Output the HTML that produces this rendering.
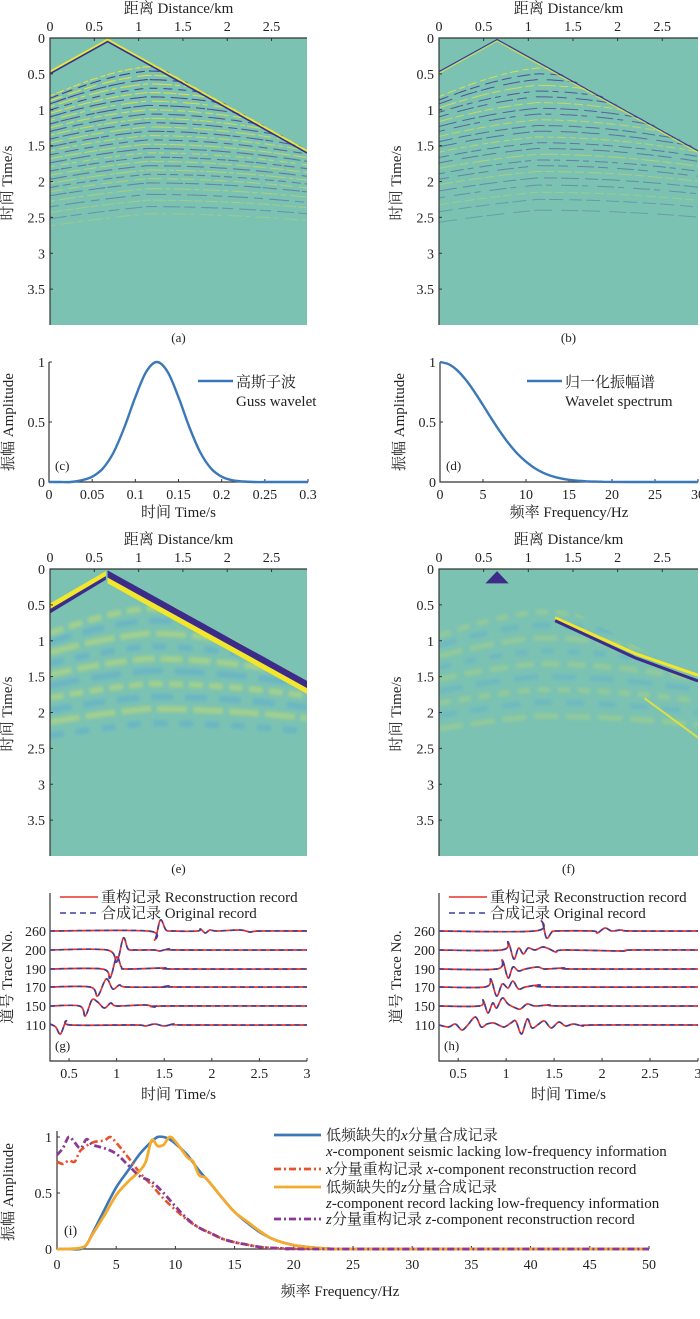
<!DOCTYPE html>
<html><head><meta charset="utf-8"><style>
body{margin:0;background:#fff}
svg{display:block;font-family:"Liberation Serif","Noto Serif CJK SC","Noto Sans CJK SC",serif}
text{fill:#222}
</style></head><body>
<svg id="fig" width="700" height="1319" viewBox="0 0 700 1319" xmlns="http://www.w3.org/2000/svg"></svg>
<script>
// ---------- data ----------
const distTicks=[0,0.5,1,1.5,2,2.5];
const timeTicks=[0,0.5,1,1.5,2,2.5,3,3.5];
const reflA=[0.4,0.46,0.52,0.58,0.64,0.7,0.76,0.82,0.88,0.94,1.0,1.06,1.12,1.18,1.24,1.3,1.36,1.42,1.48,1.54,1.6,1.66,1.72,1.78,1.84,1.9,1.96,2.02,2.1,2.18,2.26,2.35,2.45];
const reflB=[0.42,0.5,0.58,0.66,0.74,0.82,0.9,0.98,1.06,1.14,1.22,1.3,1.38,1.46,1.54,1.62,1.7,1.78,1.86,1.95,2.05,2.15,2.25,2.4];
const reflE=[0.55,0.72,0.9,1.08,1.25,1.42,1.6,1.78,1.95,2.15];
const reflF=[0.6,0.78,0.96,1.14,1.32,1.5,1.68,1.86,2.05];
const wavT=[0,0.0125,0.025,0.0375,0.05,0.0625,0.075,0.0875,0.1,0.1125,0.125,0.1375,0.15,0.1625,0.175,0.1875,0.2,0.2125,0.225,0.2375,0.25,0.2625,0.275,0.2875,0.3];
const wavA=[0,0,0,0.014,0.044,0.114,0.25,0.458,0.707,0.917,1,0.917,0.707,0.458,0.25,0.114,0.044,0.014,0.004,0,0,0,0,0,0];
const specF=[0,1,2,3,4,5,6,7,8,9,10,11,12,13,14,15,16,17,18,19,20,22,25,30];
const specA=[1,0.982,0.931,0.852,0.752,0.641,0.527,0.418,0.32,0.236,0.169,0.116,0.077,0.049,0.031,0.018,0.011,0.006,0.003,0.002,0.001,0,0,0];
const traceNos=[260,200,190,170,150,110];
const traceTicks=[0.5,1,1.5,2,2.5,3];
const tracesG=[
[[0.3,0],[1.33,0],[1.4,-9],[1.46,11],[1.52,1],[1.6,0],[1.85,0],[1.88,2],[1.93,-2],[1.98,1],[2.05,0],[2.3,1],[2.4,-1],[2.5,0],[3,0]],
[[0.3,0],[0.9,0],[1.0,-12],[1.07,12],[1.12,1],[1.2,0],[1.4,0],[1.45,-1],[1.55,1],[1.65,0],[3,0]],
[[0.3,0],[0.85,0],[0.93,-9],[1.0,12],[1.05,2],[1.1,0],[1.5,1],[1.6,0],[3,0]],
[[0.3,0],[0.72,0],[0.8,-9],[0.89,8],[0.96,-2],[1.03,2],[1.1,0],[1.5,0],[1.55,1],[1.62,0],[3,0]],
[[0.3,0],[0.61,0],[0.67,-10],[0.74,6],[0.8,4],[0.87,-2],[0.94,3],[1.0,0],[1.3,1],[1.4,-1],[1.5,0],[3,0]],
[[0.3,1],[0.36,-2],[0.41,-9],[0.47,4],[0.52,0],[1.2,0],[1.3,-1],[1.4,1],[1.5,-1],[1.6,1],[1.7,0],[3,0]]];
const tracesH=[
[[0.3,0],[1.3,0],[1.37,10],[1.42,-7],[1.47,-2],[1.52,0],[1.9,0],[1.95,-2],[2.03,3],[2.1,0],[2.2,1],[2.3,0],[3,0]],
[[0.3,0],[0.95,0],[1.02,8],[1.08,-9],[1.13,2],[1.18,-4],[1.23,2],[1.3,0],[1.38,3],[1.45,1],[1.52,-2],[1.6,0],[2.2,-1],[2.3,0],[3,0]],
[[0.3,0],[0.9,0],[0.96,9],[1.02,-9],[1.07,2],[1.13,-2],[1.2,0],[1.33,2],[1.4,0],[1.6,1],[1.7,0],[3,0]],
[[0.3,0],[0.78,0],[0.84,8],[0.9,-9],[0.96,3],[1.02,-1],[1.07,6],[1.13,-2],[1.2,0],[1.35,2],[1.45,0],[3,0]],
[[0.3,0],[0.72,0],[0.76,6],[0.81,-7],[0.86,3],[0.9,-2],[0.96,8],[1.02,2],[1.1,-2],[1.15,-3],[1.22,2],[1.3,0],[1.45,1],[1.6,0],[3,0]],
[[0.3,0],[0.4,-2],[0.47,1],[0.54,-5],[0.6,0],[0.68,8],[0.74,-2],[0.8,1],[0.87,2],[0.92,0],[0.98,-2],[1.05,2],[1.1,4],[1.16,-9],[1.22,6],[1.27,-3],[1.34,1],[1.4,4],[1.47,-3],[1.55,3],[1.62,-1],[1.7,1],[1.8,-1],[1.9,0],[3,0]]];
const freqTicks=[0,5,10,15,20,25,30,35,40,45,50];
const fBlue=[0,1,2,2.5,3,4,5,6,7,8,8.5,9,9.5,10,11,12,13,14,15,16,17,18,19,20,21,22,23,25,50];
const aBlue=[0,0,0,0.04,0.14,0.35,0.55,0.7,0.85,0.96,1,1,0.98,0.94,0.84,0.7,0.58,0.45,0.33,0.24,0.16,0.1,0.06,0.035,0.02,0.01,0.004,0,0];
const fOrange=[0,1,2,2.5,3,4,5,6,7,7.5,8,8.5,9,9.5,10,11,11.5,12,12.5,13,14,15,16,17,18,19,20,21,22,23,25,50];
const aOrange=[0,0,0.01,0.04,0.13,0.3,0.48,0.6,0.7,0.78,0.97,0.92,0.93,1,0.96,0.82,0.78,0.66,0.64,0.58,0.45,0.33,0.25,0.17,0.1,0.06,0.035,0.02,0.01,0.004,0,0];
const fRed=[0,0.5,1,1.5,2,3,4,4.5,5,6,7,8,9,10,11,12,13,14,15,16,17,18,20,22,50];
const aRed=[0.78,0.76,0.79,0.78,0.88,0.95,0.97,1,0.95,0.82,0.68,0.57,0.45,0.35,0.26,0.19,0.14,0.09,0.06,0.04,0.02,0.01,0.003,0,0];
const fPurple=[0,0.5,1,1.5,2,2.5,3,4,5,6,7,8,9,10,11,12,13,14,15,16,17,18,20,22,50];
const aPurple=[0.84,0.9,1,0.95,0.9,0.98,0.93,0.9,0.85,0.75,0.65,0.6,0.5,0.38,0.27,0.19,0.14,0.09,0.06,0.04,0.02,0.01,0.003,0,0];

// ---------- helpers ----------
const NS='http://www.w3.org/2000/svg';
const svg=document.getElementById('fig');
function mk(tag,attrs,parent){const e=document.createElementNS(NS,tag);for(const k in attrs)e.setAttribute(k,attrs[k]);(parent||svg).appendChild(e);return e;}
function txt(x,y,s,size,anchor,parent){const t=mk('text',{x:x,y:y,'font-size':size,'text-anchor':anchor||'middle'},parent);t.textContent=s;return t;}
function smooth(pts){let d='M'+pts[0][0].toFixed(1)+','+pts[0][1].toFixed(1);
 for(let i=0;i<pts.length-1;i++){const p0=pts[Math.max(0,i-1)],p1=pts[i],p2=pts[i+1],p3=pts[Math.min(pts.length-1,i+2)];
  const c1x=p1[0]+(p2[0]-p0[0])/6,c1y=p1[1]+(p2[1]-p0[1])/6,c2x=p2[0]-(p3[0]-p1[0])/6,c2y=p2[1]-(p3[1]-p1[1])/6;
  d+=' C'+c1x.toFixed(1)+','+c1y.toFixed(1)+' '+c2x.toFixed(1)+','+c2y.toFixed(1)+' '+p2[0].toFixed(1)+','+p2[1].toFixed(1);}
 return d;}
function rotText(x,y,s,size,parent){const t=mk('text',{x:0,y:0,'font-size':size,'text-anchor':'middle',transform:'translate('+x+','+y+') rotate(-90)'},parent);t.textContent=s;return t;}
const defs=mk('defs',{});
const blur=mk('filter',{id:'bl',x:'-20%',y:'-20%',width:'140%',height:'140%'},defs);
mk('feGaussianBlur',{stdDeviation:'1.6'},blur);

// ---------- seismic panels ----------
const TEAL='#7bc2b3',YEL='#f3e62b',PUR='#3c2b88',LBLUE='#59a9d6';
function seis(id,L,T,R,B,refl,mode,label){
 const W=R-L,H=B-T;
 const xs=k=>L+k*W/2.9, ys=t=>T+t*H/4;
 const g=mk('g',{});
 
 
 const cp=mk('clipPath',{id:'clip'+id},defs);
 mk('rect',{x:L,y:T,width:W,height:H},cp);
 const cp2=mk('clipPath',{id:'below'+id},defs);
 mk('polygon',{points:[[L,ys(0.65/1.45)],[xs(0.65),T],[R,ys(2.25/1.45)],[R,B],[L,B]].map(p=>p.join(',')).join(' ')},cp2);
 const bg=mk('rect',{x:L,y:T,width:W,height:H,fill:TEAL},g);
 
 
 const inner=mk('g',{'clip-path':'url(#clip'+id+')'},g);
 const rg=mk('g',{'clip-path':'url(#below'+id+')'},inner);
 if(mode==='e'||mode==='f')rg.setAttribute('filter','url(#bl)');
 refl.forEach((t0,i)=>{
  const v=1.9+t0*0.3;let pts=[];
  for(let k=0;k<=2.9001;k+=0.05){const t=Math.sqrt(t0*t0+Math.pow((k-1.1)/v,2))+(k<1.1?(1.1-k)*0.12:0);pts.push([xs(k),ys(t)]);}
  let col,w,op,dash;
  if(mode==='a'){col=i%2?PUR:YEL;w=1.1;op=Math.max(0.25,1-t0*0.3);dash=(5+i%4*4)+' '+(2+i%3*2)+' '+(8+i%5*3)+' '+(3+i%2*3);}
  else if(mode==='b'){col=i%3?PUR:YEL;w=1;op=Math.max(0.25,0.9-t0*0.28);dash=(6+i%4*4)+' '+(3+i%3*3)+' '+(9+i%3*4)+' 4';}
  else if(mode==='e'){col=i%2?LBLUE:'#c9dd6a';w=6;op=0.5;dash=(14+i%3*8)+' '+(6+i%2*6);}
  else {col=i%2?LBLUE:'#b8d870';w=5;op=0.4;dash=(12+i%3*6)+' '+(8+i%2*6);}
  const p=mk('path',{d:smooth(pts),fill:'none',stroke:col,'stroke-width':w,'stroke-opacity':op,'stroke-dasharray':dash},rg);
  
  
 });
 const dw=(off,col,w)=>{const pts=[[xs(0),ys(0.65/1.45+off)],[xs(0.65),ys(off)],[xs(2.9),ys(2.25/1.45+off)]];
  const p=mk('polyline',{points:pts.map(q=>q.join(',')).join(' '),fill:'none',stroke:col,'stroke-width':w},inner);
  
  return p;};
 if(mode==='a'){dw(0.02,YEL,1.6);dw(0.05,PUR,1.5);}
 else if(mode==='b'){dw(0.02,PUR,1);dw(0.045,YEL,0.7);}
 else if(mode==='e'){
  const p1=mk('polygon',{points:[[xs(0),ys(0.48)],[xs(0.63),ys(0.03)],[xs(0.63),ys(0.1)],[xs(0),ys(0.56)]].map(q=>q.join(',')).join(' '),fill:YEL},inner);
  
  const p1b=mk('polygon',{points:[[xs(0),ys(0.56)],[xs(0.63),ys(0.1)],[xs(0.63),ys(0.15)],[xs(0),ys(0.62)]].map(q=>q.join(',')).join(' '),fill:PUR},inner);
  
  const p2=mk('polygon',{points:[[xs(0.65),ys(0.02)],[xs(2.9),ys(1.56)],[xs(2.9),ys(1.66)],[xs(0.65),ys(0.12)]].map(q=>q.join(',')).join(' '),fill:PUR},inner);
  
  const p3=mk('polygon',{points:[[xs(0.65),ys(0.12)],[xs(2.9),ys(1.66)],[xs(2.9),ys(1.74)],[xs(0.65),ys(0.2)]].map(q=>q.join(',')).join(' '),fill:YEL},inner);
  
 } else {
  const tri=mk('polygon',{points:[[xs(0.52),ys(0.2)],[xs(0.65),ys(0.03)],[xs(0.78),ys(0.2)]].map(q=>q.join(',')).join(' '),fill:PUR},inner);
  
  const a=mk('polyline',{points:[[xs(1.3),ys(0.68)],[xs(2.2),ys(1.18)],[xs(2.9),ys(1.48)]].map(q=>q.join(',')).join(' '),fill:'none',stroke:YEL,'stroke-width':3},inner);
  
  const b=mk('polyline',{points:[[xs(1.3),ys(0.72)],[xs(2.2),ys(1.24)],[xs(2.9),ys(1.56)]].map(q=>q.join(',')).join(' '),fill:'none',stroke:PUR,'stroke-width':3},inner);
  
  const c=mk('polyline',{points:[[xs(2.3),ys(1.8)],[xs(2.9),ys(2.35)]].map(q=>q.join(',')).join(' '),fill:'none',stroke:YEL,'stroke-width':2,'stroke-opacity':0.8},inner);
  
 }
 const ax=mk('path',{d:'M'+L+','+B+' V'+T+' H'+R,fill:'none',stroke:'#333','stroke-width':1.2},g);
 
 distTicks.forEach(k=>{mk('line',{x1:xs(k),x2:xs(k),y1:T,y2:T+3,stroke:'#333'},g);
  const t=txt(xs(k),T-7,String(k),14,'middle',g);});
 timeTicks.forEach(v=>{mk('line',{x1:L,x2:L+3,y1:ys(v),y2:ys(v),stroke:'#333'},g);
  const t=txt(L-5,ys(v)+5,String(v),14,'end',g);});
 const xt=txt((L+R)/2,T-25,'距离 Distance/km',15,'middle',g);
 const yt=rotText(L-38,T+145,'时间 Time/s',15,g);
 const lb=txt((L+R)/2,B+17,label,13,'middle',g);
}
seis('a',50,38,307,325,reflA,'a','(a)');
seis('b',439,38,698,325,reflB,'b','(b)');
seis('e',50,569,307,856,reflE,'e','(e)');
seis('f',439,569,698,856,reflF,'f','(f)');

// ---------- line plots c, d ----------
function linePlot(id,L,T,R,B,xmax,xticks,xs_,ys_,lx,legend1,legend2,xlabel,label){
 const g=mk('g',{});
 
 
 const X=v=>L+v/xmax*(R-L),Y=v=>B-v*(B-T);
 const ax=mk('path',{d:'M'+L+','+T+' V'+B+' H'+R,fill:'none',stroke:'#333','stroke-width':1.2},g);
 
 xticks.forEach(v=>{mk('line',{x1:X(v),x2:X(v),y1:B,y2:B-3,stroke:'#333'},g);
  const t=txt(X(v),B+17,String(v),14,'middle',g);});
 [0,0.5,1].forEach(v=>{mk('line',{x1:L,x2:L+3,y1:Y(v),y2:Y(v),stroke:'#333'},g);
  const t=txt(L-4,Y(v)+5,String(v),14,'end',g);});
 const p=mk('path',{d:smooth(xs_.map((v,i)=>[X(v),Y(ys_[i])])),fill:'none',stroke:'#3a78b8','stroke-width':2.4},g);
 
 const ll=mk('line',{x1:lx,x2:lx+35,y1:381,y2:381,stroke:'#3a78b8','stroke-width':2.6},g);
 
 const l1=txt(lx+38,387,legend1,15,'start',g);
 const l2=txt(lx+38,406,legend2,15,'start',g);
 const yt=rotText(L-36,T+60,'振幅 Amplitude',15,g);
 const xt=txt((L+R)/2,517,xlabel,15,'middle',g);
 const lb=txt(L+6,470,label,13,'start',g);
}
linePlot('c',49,362,308,482,0.3,[0,0.05,0.1,0.15,0.2,0.25,0.3],wavT,wavA,198,'高斯子波','Guss wavelet','时间 Time/s','(c)');
linePlot('d',440,362,698,482,30,[0,5,10,15,20,25,30],specF,specA,527,'归一化振幅谱','Wavelet spectrum','频率 Frequency/Hz','(d)');

// ---------- trace panels g, h ----------
const baseY=[931,950,969,987,1006,1025];
function tracePanel(id,L,R,traces,label){
 const T=893,B=1061;
 const g=mk('g',{});
 
 
 const X=t=>L+(t-0.3)/2.7*(R-L);
 const ax=mk('path',{d:'M'+L+','+T+' V'+B+' H'+R,fill:'none',stroke:'#333','stroke-width':1.2},g);
 
 traceTicks.forEach(v=>{mk('line',{x1:X(v),x2:X(v),y1:B,y2:B-3,stroke:'#333'},g);
  const t=txt(X(v),B+17,String(v),14,'middle',g);});
 traceNos.forEach((n,i)=>{
  const t=txt(L-4,baseY[i]+5,String(n),14,'end',g);
  const d=smooth(traces[i].map(p=>[X(p[0]),baseY[i]-p[1]]));
  const r=mk('path',{d:d,fill:'none',stroke:'#e8302e','stroke-width':1.7},g);
  
  const b=mk('path',{d:d,fill:'none',stroke:'#3a3f9a','stroke-width':1.6,'stroke-dasharray':'5 4'},g);
  
 });
 const l1=mk('line',{x1:L+10,x2:L+48,y1:897,y2:897,stroke:'#e8302e','stroke-width':1.6},g);
 
 const t1=txt(L+51,902,'重构记录 Reconstruction record',15,'start',g);
 const l2=mk('line',{x1:L+10,x2:L+48,y1:913,y2:913,stroke:'#3a3f9a','stroke-width':1.6,'stroke-dasharray':'6 4'},g);
 
 const t2=txt(L+51,918,'合成记录 Original record',15,'start',g);
 const yt=rotText(L-38,977,'道号 Trace No.',15,g);
 const xt=txt((L+R)/2,1099,'时间 Time/s',15,'middle',g);
 const lb=txt(L+5,1050,label,13,'start',g);
}
tracePanel('g',50,307,tracesG,'(g)');
tracePanel('h',439,698,tracesH,'(h)');

// ---------- panel i ----------
(function(){
 const L=57,R=649,T=1137,B=1249;
 const g=mk('g',{});
 
 
 const X=f=>L+f/50*(R-L),Y=a=>B-a*(B-T);
 const ax=mk('path',{d:'M'+L+','+(T-6)+' V'+B+' H'+R,fill:'none',stroke:'#333','stroke-width':1.2},g);
 
 freqTicks.forEach(v=>{mk('line',{x1:X(v),x2:X(v),y1:B,y2:B-3,stroke:'#333'},g);
  const t=txt(X(v),B+20,String(v),14,'middle',g);});
 [0,0.5,1].forEach(v=>{mk('line',{x1:L,x2:L+3,y1:Y(v),y2:Y(v),stroke:'#333'},g);
  const t=txt(L-5,Y(v)+5,String(v),14,'end',g);});
 const ser=[[fBlue,aBlue,'#3a78b8',2.6,'','x-synthetic-spectrum'],[fRed,aRed,'#e8512a',2.6,'7 3 2 3','x-reconstruction-spectrum'],[fOrange,aOrange,'#f4aa2c',2.8,'','z-synthetic-spectrum'],[fPurple,aPurple,'#8a3a94',2.8,'7 3 2 3','z-reconstruction-spectrum']];
 ser.forEach(s=>{const p=mk('path',{d:smooth(s[0].map((f,i)=>[X(f),Y(s[1][i])])),fill:'none',stroke:s[2],'stroke-width':s[3],'stroke-dasharray':s[4]||'none'},g);
  });
 const legs=[[1135,'#3a78b8','',[['低频缺失的',''],['x','i'],['分量合成记录','']]],
  [1169,'#e8512a','7 3 2 3',[['x','i'],['分量重构记录 ',''],['x','i'],['-component reconstruction record','']]],
  [1187,'#f4aa2c','',[['低频缺失的',''],['z','i'],['分量合成记录','']]],
  [1219,'#8a3a94','7 3 2 3',[['z','i'],['分量重构记录 ',''],['z','i'],['-component reconstruction record','']]]];
 legs.forEach(l=>{const ln=mk('line',{x1:274,x2:321,y1:l[0],y2:l[0],stroke:l[1],'stroke-width':2.8,'stroke-dasharray':l[2]||'none'},g);
  
  const t=mk('text',{x:326,y:l[0]+5,'font-size':15,'text-anchor':'start'},g);
  
  l[3].forEach(s=>{const sp=mk('tspan',{},t);if(s[1])sp.setAttribute('font-style','italic');sp.textContent=s[0];});});
 [[1156,'x','-component seismic lacking low-frequency information'],[1208,'z','-component record lacking low-frequency information']].forEach(l=>{
  const t=mk('text',{x:326,y:l[0],'font-size':15,'text-anchor':'start'},g);
  
  const a=mk('tspan',{'font-style':'italic'},t);a.textContent=l[1];const b=mk('tspan',{},t);b.textContent=l[2];});
 const yt=rotText(13,1192,'振幅 Amplitude',15,g);
 const xt=txt(340,1296,'频率 Frequency/Hz',15,'middle',g);
 const lb=txt(64,1235,'(i)',14,'start',g);
})();
</script>
</body></html>
